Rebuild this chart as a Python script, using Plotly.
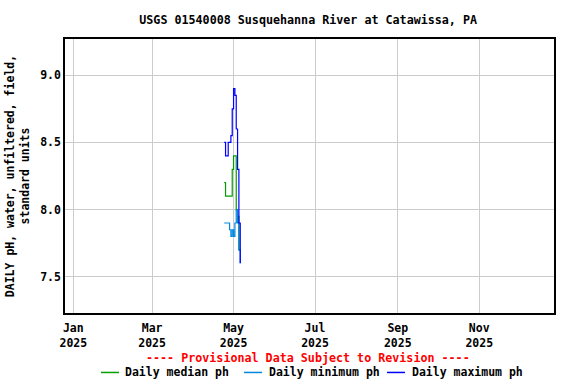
import plotly.graph_objects as go

dates = ["2025-04-24", "2025-04-25", "2025-04-26", "2025-04-27", "2025-04-28",
         "2025-04-29", "2025-04-30", "2025-05-01", "2025-05-02", "2025-05-03",
         "2025-05-04", "2025-05-05", "2025-05-06"]
median_ph = [8.2, 8.1, 8.1, 8.1, 8.1, 8.1, 8.3, 8.4, 8.4, 8.0, 7.95, 7.7, 7.7]
min_ph = [7.9, 7.9, 7.9, 7.9, 7.85, 7.8, 7.85, 7.8, 7.9, 8.0, 7.9, 7.7, 7.6]
max_ph = [8.5, 8.4, 8.4, 8.5, 8.5, 8.55, 8.75, 8.9, 8.85, 8.6, 8.3, 7.9, 7.6]

FONT = "DejaVu Sans Mono"
FS = 11.5
fig = go.Figure()
series = [("Daily median ph", median_ph, "#00a000"),
          ("Daily minimum ph", min_ph, "#0088dd"),
          ("Daily maximum ph", max_ph, "#0000ff")]
for name, vals, col in series:
    fig.add_trace(go.Scatter(x=dates, y=vals, mode="lines", name=name,
                             line=dict(color=col, width=1.2, shape="hv"),
                             showlegend=False))

fig.update_layout(
    width=576, height=384,
    margin=dict(l=65, r=22, t=39, b=71),
    paper_bgcolor="white", plot_bgcolor="white",
    font=dict(family=FONT, size=FS, color="black"),
    title=dict(text="<b>USGS 01540008 Susquehanna River at Catawissa, PA</b>",
               x=0.535, xanchor="center", y=0.948, yanchor="middle",
               font=dict(family=FONT, size=11.7, color="black")),
)
fig.update_xaxes(
    type="date", range=["2024-12-25 18:00", "2025-12-27"],
    dtick="M2", tick0="2025-01-01", tickformat="%b<br>%Y",
    showgrid=True, gridcolor="#cccccc", gridwidth=1,
    showline=True, linecolor="black", linewidth=1.5, mirror=True,
    ticks="", ticklabelstandoff=3, automargin=False,
    tickfont=dict(family=FONT, size=FS, color="black", weight="bold"),
    zeroline=False,
)
fig.update_yaxes(
    range=[7.23, 9.27], tickvals=[7.5, 8.0, 8.5, 9.0],
    ticktext=["7.5", "8.0", "8.5", "9.0"],
    showgrid=True, gridcolor="#cccccc", gridwidth=1,
    showline=True, linecolor="black", linewidth=1.5, mirror=True,
    ticks="", ticklen=0, automargin=False,
    tickfont=dict(family=FONT, size=FS, color="black", weight="bold"),
    title=dict(text="<b>DAILY pH, water, unfiltered, field,<br>standard units</b>",
               font=dict(family=FONT, size=FS, color="black"), standoff=8),
    zeroline=False,
)

fig.add_annotation(text="<b>---- Provisional Data Subject to Revision ----</b>",
                   xref="paper", yref="paper", x=0.497, y=-0.163,
                   xanchor="center", yanchor="middle", showarrow=False,
                   font=dict(family=FONT, size=11.7, color="red"))

leg_y = -0.217
for (name, vals, col), (x0, x1, xt) in zip(series, [(101, 119, 123), (244, 262, 267), (387, 405, 410)]):
    px0 = (x0 - 65) / 489.0
    px1 = (x1 - 65) / 489.0
    pxt = (xt - 65) / 489.0
    fig.add_shape(type="line", xref="paper", yref="paper", x0=px0, x1=px1,
                  y0=leg_y, y1=leg_y, line=dict(color=col, width=1.5))
    fig.add_annotation(text="<b>" + name + "</b>", xref="paper", yref="paper",
                       x=pxt, y=leg_y, xanchor="left", yanchor="middle",
                       showarrow=False, font=dict(family=FONT, size=FS, color="black"))

fig.write_html("out.html", config={"displayModeBar": False},
               post_script="document.body.style.margin='0';")
